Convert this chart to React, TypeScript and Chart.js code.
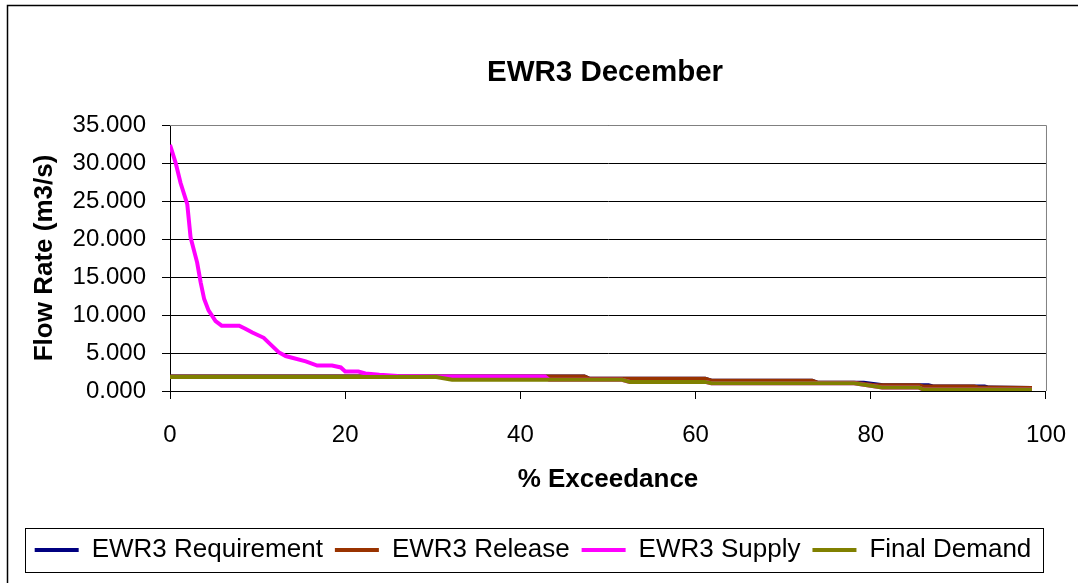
import React, { useEffect, useRef } from "react";
import { Chart, registerables } from "chart.js";

Chart.register(...registerables);

const chartTitle = "EWR3 December";
const xAxisTitle = "% Exceedance";
const yAxisTitle = "Flow Rate (m3/s)";
const seriesNames = ["EWR3 Requirement", "EWR3 Release", "EWR3 Supply", "Final Demand"];
const seriesColors = ["#000080", "#993300", "#FF00FF", "#808000"];
const xTickValues = [0, 20, 40, 60, 80, 100];
const yTickValues = [0, 5, 10, 15, 20, 25, 30, 35];

const requirementX = [0, 47.3, 47.9, 61.1, 61.8, 73.3, 73.9, 79.2, 81.4, 86.6, 87.1, 93.0, 93.5, 98.4];
const requirementY = [1.92, 1.92, 1.6, 1.6, 1.35, 1.35, 1.1, 1.1, 0.75, 0.75, 0.6, 0.6, 0.45, 0.4];

const releaseX = [0, 42.8, 47.3, 47.9, 61.1, 61.8, 73.3, 73.9, 78.1, 80.5, 85.5, 86.0, 91.8, 92.4, 98.4];
const releaseY = [1.92, 1.92, 1.92, 1.6, 1.6, 1.35, 1.35, 1.1, 1.1, 0.75, 0.75, 0.6, 0.6, 0.45, 0.4];

const supplyX = [0, 0.65, 1.2, 1.97, 2.35, 3.1, 3.5, 3.9, 4.4, 5.2, 5.9, 7.9, 8.6, 9.4, 10.7, 11.5, 12.4, 13.2, 15.5, 16.8, 18.5, 19.5, 20.0, 21.5, 22.3, 23.9, 26.0, 30.3, 42.8, 43.3, 51.6, 52.5, 61.1, 61.8, 78.1, 81.3, 85.5, 86.0, 98.4];
const supplyY = [32.4, 30.0, 27.4, 24.6, 20.2, 16.9, 14.3, 12.1, 10.6, 9.2, 8.6, 8.6, 8.2, 7.7, 7.0, 6.1, 5.1, 4.6, 3.9, 3.35, 3.35, 3.1, 2.56, 2.56, 2.3, 2.13, 1.98, 1.92, 1.92, 1.48, 1.48, 1.2, 1.2, 1.02, 1.02, 0.45, 0.45, 0.2, 0.2];

const demandX = [0, 30.4, 32.2, 51.6, 52.5, 61.1, 61.8, 78.1, 81.3, 85.5, 86.0, 98.4];
const demandY = [1.83, 1.83, 1.48, 1.48, 1.2, 1.2, 1.02, 1.02, 0.45, 0.45, 0.2, 0.2];

// drawing order: Final Demand on top, then Supply, Release, Requirement
const seriesDrawOrder = [3, 2, 1, 0];

const FONT = "'Liberation Sans', Arial, sans-serif";
const TITLE_CX = 605;
const LEGEND_CX = 533;

const toPoints = (xs: number[], ys: number[]) => xs.map((x, i) => ({ x, y: ys[i] }));

const framePlugin = {
  id: "frame",
  afterLayout(chart: any) {
    const t = chart.titleBlock;
    if (t) {
      const dx = TITLE_CX - (t.left + t.right) / 2;
      t.left += dx;
      t.right += dx;
    }
    const l = chart.legend;
    if (l) {
      const dx = LEGEND_CX - (l.left + l.right) / 2;
      l.left += dx;
      l.right += dx;
    }
  },
  beforeDatasetsDraw(chart: any) {
    const { ctx, chartArea } = chart;
    const { left, top, right, bottom } = chartArea;
    ctx.save();
    ctx.strokeStyle = "#808080";
    ctx.lineWidth = 1;
    ctx.beginPath();
    ctx.moveTo(left, top + 0.5);
    ctx.lineTo(right + 0.5, top + 0.5);
    ctx.lineTo(right + 0.5, bottom);
    ctx.stroke();
    ctx.restore();
  },
  afterDraw(chart: any) {
    const { ctx } = chart;
    ctx.save();
    ctx.strokeStyle = "#000";
    ctx.lineWidth = 1.5;
    ctx.beginPath();
    ctx.moveTo(1078, 5.5);
    ctx.lineTo(7.5, 5.5);
    ctx.lineTo(7.5, 583);
    ctx.stroke();
    const hb = chart.legend && chart.legend.legendHitBoxes;
    if (hb && hb.length) {
      const first = hb[0];
      const last = hb[hb.length - 1];
      const x0 = Math.round(first.left - 10) + 0.5;
      const x1 = Math.round(last.left + last.width + 12) + 0.5;
      const y0 = Math.round(first.top - 9) + 0.5;
      const y1 = Math.round(first.top + first.height + 9) + 0.5;
      ctx.strokeStyle = "#000";
      ctx.lineWidth = 1;
      ctx.strokeRect(x0, y0, x1 - x0, y1 - y0);
    }
    ctx.restore();
  },
};

export default function App() {
  const ref = useRef<HTMLCanvasElement>(null);

  useEffect(() => {
    const canvas = ref.current;
    if (!canvas) return;
    const allX = [requirementX, releaseX, supplyX, demandX];
    const allY = [requirementY, releaseY, supplyY, demandY];
    const chart = new Chart(canvas, {
      type: "line",
      data: {
        datasets: seriesNames.map((name, i) => ({
          label: name,
          data: toPoints(allX[i], allY[i]),
          borderColor: seriesColors[i],
          backgroundColor: seriesColors[i],
          borderWidth: 4,
          pointRadius: 0,
          pointHoverRadius: 0,
          pointStyle: "line",
          tension: 0,
          fill: false,
          order: seriesDrawOrder[i],
        })),
      },
      options: {
        responsive: false,
        animation: false,
        devicePixelRatio: 1,
        layout: { padding: { left: 0, right: 41, top: 0, bottom: 10 } },
        plugins: {
          tooltip: { enabled: false },
          title: {
            display: true,
            text: chartTitle,
            color: "#000",
            font: { family: FONT, size: 29.5, weight: "bold", lineHeight: 1.2 },
            padding: { top: 55.3, bottom: 34.3 },
          },
          legend: {
            display: true,
            position: "bottom",
            labels: {
              color: "#000",
              font: { family: FONT, size: 26, lineHeight: 1.2 },
              usePointStyle: true,
              pointStyleWidth: 44,
              padding: 12,
              generateLabels: (c: any) =>
                c.data.datasets.map((ds: any, i: number) => ({
                  text: ds.label,
                  strokeStyle: ds.borderColor,
                  fillStyle: ds.borderColor,
                  lineWidth: 4,
                  pointStyle: "line",
                  hidden: false,
                  datasetIndex: i,
                  fontColor: "#000",
                })),
            },
          },
        },
        scales: {
          x: {
            type: "linear",
            min: 0,
            max: 100,
            afterBuildTicks: (s: any) => {
              s.ticks = xTickValues.map((v) => ({ value: v }));
            },
            afterFit: (s: any) => {
              s.height = 134;
            },
            ticks: {
              color: "#000",
              padding: 22,
              maxRotation: 0,
              font: { family: FONT, size: 24, lineHeight: 1.2 },
              callback: (v: any) => String(v),
            },
            grid: { drawOnChartArea: false, drawTicks: true, tickLength: 8, color: "#000" },
            border: { color: "#000", width: 1 },
            title: {
              display: true,
              text: xAxisTitle,
              color: "#000",
              font: { family: FONT, size: 26, weight: "bold", lineHeight: 1.2 },
              padding: { top: 0, bottom: 30 },
            },
          },
          y: {
            type: "linear",
            min: 0,
            max: 35,
            afterBuildTicks: (s: any) => {
              s.ticks = yTickValues.map((v) => ({ value: v }));
            },
            afterFit: (s: any) => {
              s.width = 170;
            },
            ticks: {
              color: "#000",
              padding: 16,
              font: { family: FONT, size: 24, lineHeight: 1.2 },
              callback: (v: any) => Number(v).toFixed(3),
            },
            grid: { color: "#000", lineWidth: 1, drawTicks: true, tickLength: 8 },
            border: { color: "#000", width: 1 },
            title: {
              display: true,
              text: yAxisTitle,
              color: "#000",
              font: { family: FONT, size: 26, weight: "bold", lineHeight: 1.2 },
              padding: { top: 29, bottom: 0 },
            },
          },
        },
      },
      plugins: [framePlugin],
    } as any);
    return () => chart.destroy();
  }, []);

  return (
    <div style={{ position: "fixed", left: 0, top: 0, width: 1088, height: 583, background: "#fff" }}>
      <canvas ref={ref} width={1088} height={583} style={{ width: 1088, height: 583, display: "block" }} />
    </div>
  );
}
